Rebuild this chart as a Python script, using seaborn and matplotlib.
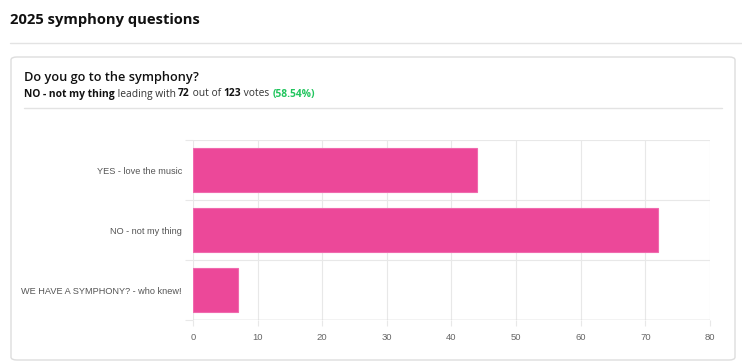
import matplotlib
matplotlib.use("Agg")
import matplotlib.pyplot as plt
from matplotlib.patches import FancyBboxPatch
from matplotlib.lines import Line2D
import seaborn as sns
import pandas as pd

categories = ["YES - love the music", "NO - not my thing", "WE HAVE A SYMPHONY? - who knew!"]
votes = [44, 72, 7]
x_ticks = [0, 10, 20, 30, 40, 50, 60, 70, 80]

title = "2025 symphony questions"
question = "Do you go to the symphony?"

sns.set_theme(style="white")
plt.rcParams['font.family'] = ['DejaVu Sans']

W, H = 742, 363
fig = plt.figure(figsize=(W / 100, H / 100), dpi=100)

def fx(px):
    return px / W

def fy(py):
    return 1 - py / H

# header
fig.text(fx(10), fy(20), title, fontsize=10.6, fontweight="bold", color="#111111",
         va="center", ha="left", family=["Open Sans", "DejaVu Sans"])
fig.add_artist(Line2D([fx(10), fx(742)], [fy(43), fy(43)], color="#e3e3e3", lw=1))

# card
card = FancyBboxPatch((fx(11), fy(360)), fx(735) - fx(11), fy(57) - fy(360),
                      boxstyle="round,pad=0,rounding_size=0.008", transform=fig.transFigure,
                      facecolor="white", edgecolor="#dddddd", lw=1, zorder=-5)
fig.add_artist(card)

fig.text(fx(24), fy(78), question, fontsize=9.2, fontweight="semibold", color="#111111",
         va="center", ha="left", family=["Open Sans", "DejaVu Sans"])

# subtitle with mixed styles
winner = categories[votes.index(max(votes))]
total = sum(votes)
pct = max(votes) / total * 100
parts = [
    (winner, "bold", "#111111"),
    (" leading with ", "normal", "#333333"),
    (str(max(votes)), "bold", "#111111"),
    (" out of ", "normal", "#333333"),
    (str(total), "bold", "#111111"),
    (" votes ", "normal", "#333333"),
    (f"({pct:.2f}%)", "bold", "#22c55e"),
]
fig.canvas.draw()
renderer = fig.canvas.get_renderer()
xpix = 24
for txt, wt, col in parts:
    t = fig.text(fx(xpix), fy(94), txt, fontsize=7.4, fontweight=wt, color=col,
                 va="center", ha="left", family=["Open Sans", "DejaVu Sans"])
    bb = t.get_window_extent(renderer=renderer)
    xpix += bb.width
fig.add_artist(Line2D([fx(24), fx(722)], [fy(108), fy(108)], color="#e3e3e3", lw=1))

# chart
ax = fig.add_axes([fx(193), fy(320), fx(710) - fx(193), fy(140) - fy(320)])
ax.set_facecolor("none")
df = pd.DataFrame({"answer": categories, "votes": votes})
sns.barplot(data=df, y="answer", x="votes", orient="h", color="#EC4899", saturation=1,
            width=0.72, edgecolor="#f06aae", linewidth=0.8, ax=ax, zorder=3)
ax.set_xlim(0, 80)
ax.set_ylim(2.5, -0.5)
ax.set_xticks(x_ticks)
ax.set_xticklabels([str(v) for v in x_ticks])
ax.set_yticks(range(len(categories)))
ax.set_yticks([-0.5, 0.5, 1.5, 2.5], minor=True)
ax.set_xlabel("")
ax.set_ylabel("")
for s in ax.spines.values():
    s.set_visible(False)
ax.grid(False)
ax.set_axisbelow(True)
ax.xaxis.grid(True, color="#e8e8e8", lw=0.8)
ax.yaxis.grid(True, which="minor", color="#e8e8e8", lw=0.8)
ax.axhline(2.5, color="#cccccc", lw=1, zorder=4)
ax.tick_params(axis="x", which="major", length=4, color="#e8e8e8", width=0.8, labelsize=6.8,
               labelcolor="#666666", pad=5, bottom=True)
ax.tick_params(axis="y", which="major", length=0, labelsize=6.6, labelcolor="#555555", pad=8)
ax.tick_params(axis="y", which="minor", length=6, color="#e8e8e8", width=0.8, left=True)
for lab in ax.get_xticklabels() + ax.get_yticklabels():
    lab.set_family(["Liberation Sans", "DejaVu Sans"])

fig.savefig("out.png", dpi=100, facecolor="white")
